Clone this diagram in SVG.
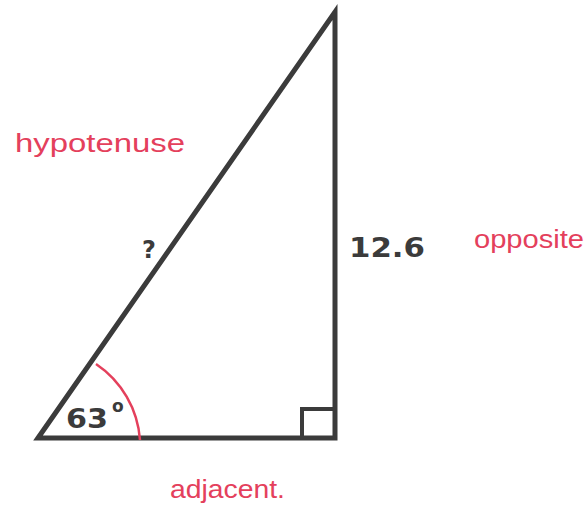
<svg xmlns="http://www.w3.org/2000/svg" width="587" height="523" viewBox="0 0 587 523">
<style>
.edge{fill:none;stroke:#3b3b3b;stroke-width:5;stroke-linejoin:miter;stroke-linecap:square}
.thin{fill:none;stroke:#3b3b3b;stroke-width:4}
.arc{fill:none;stroke:#e4405c;stroke-width:2.5}
.lbl{font-family:"DejaVu Sans",sans-serif;font-weight:bold;fill:#3b3b3b}
.hand{font-family:"Liberation Sans",sans-serif;fill:#e4405c;font-size:26px}
</style>
<rect width="587" height="523" fill="#ffffff"/>
<g id="connectors">
<polygon class="edge" points="38,438 335,12 335,438"/>
<polyline class="thin" points="302,438 302,409 335,409"/>
<path class="arc" d="M 96 364 A 100 100 0 0 1 140 440"/>
</g>
<g id="hypotenuse-label"><text class="hand" x="15" y="152" textLength="170" lengthAdjust="spacingAndGlyphs">hypotenuse</text></g>
<g id="opposite-label"><text class="hand" x="474" y="248" textLength="110" lengthAdjust="spacingAndGlyphs">opposite</text></g>
<g id="adjacent-label"><text class="hand" x="170" y="498" textLength="115" lengthAdjust="spacingAndGlyphs">adjacent.</text></g>
<g id="unknown"><text class="lbl" x="142" y="258" font-size="24">?</text></g>
<g id="side-value"><text class="lbl" x="349" y="257" font-size="27" textLength="76" lengthAdjust="spacingAndGlyphs">12.6</text></g>
<g id="angle"><text class="lbl" x="66" y="428" font-size="27" textLength="42" lengthAdjust="spacingAndGlyphs">63</text><text class="lbl" x="112" y="412" font-size="17">o</text></g>
</svg>
